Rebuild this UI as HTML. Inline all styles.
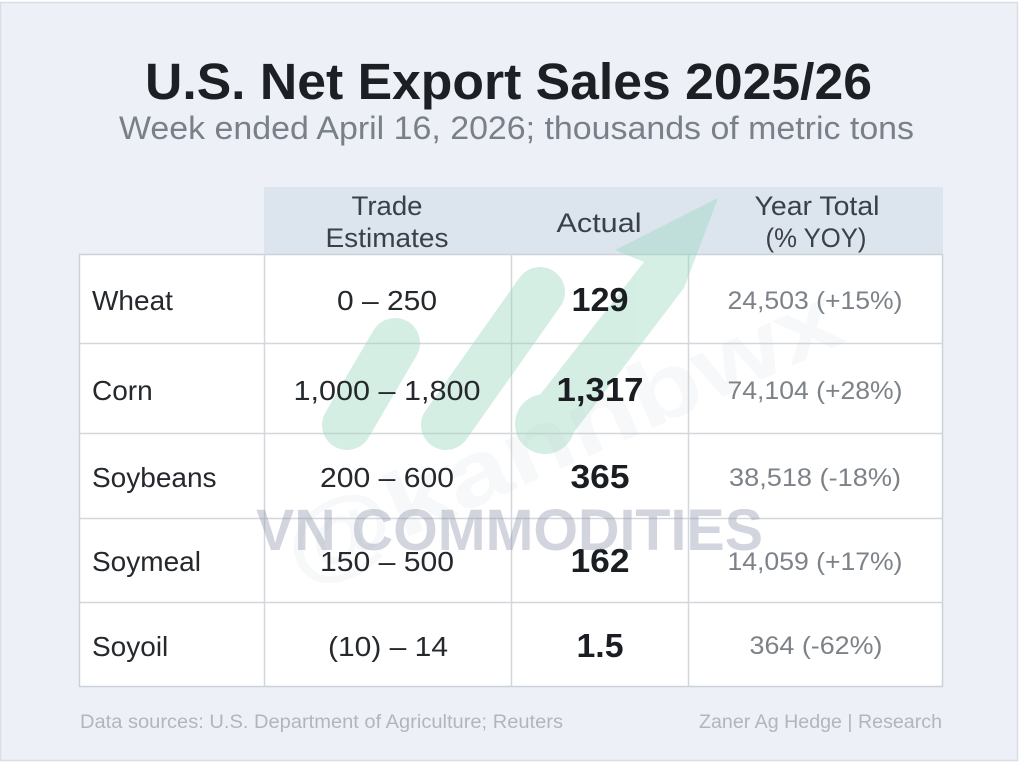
<!DOCTYPE html>
<html>
<head>
<meta charset="utf-8">
<style>
html,body{margin:0;padding:0;background:#ffffff;}
svg{display:block;}
</style>
</head>
<body>
<svg width="1020" height="766" viewBox="0 0 1020 766" xmlns="http://www.w3.org/2000/svg" font-family="Liberation Sans, Arial, sans-serif">
  <!-- frame -->
  <rect x="0.5" y="2.5" width="1017" height="758" fill="#edf1f7" stroke="#d9dee5" stroke-width="1.5"/>

  <!-- title -->
  <text x="145" y="99" font-size="51" font-weight="bold" fill="#1c1f23" textLength="727" lengthAdjust="spacingAndGlyphs">U.S. Net Export Sales 2025/26</text>
  <text x="119" y="139" font-size="32" fill="#7a8089" textLength="795" lengthAdjust="spacingAndGlyphs">Week ended April 16, 2026; thousands of metric tons</text>

  <!-- header band -->
  <rect x="264" y="187" width="679" height="67" fill="#dce4ee"/>

  <!-- table body -->
  <rect x="79.5" y="254.5" width="863" height="432" fill="#ffffff" stroke="#ccd1d7" stroke-width="1.5"/>
  <g stroke="#d3d7dc" stroke-width="1.5">
    <line x1="79" y1="343.5" x2="943" y2="343.5"/>
    <line x1="79" y1="433.5" x2="943" y2="433.5"/>
    <line x1="79" y1="518.5" x2="943" y2="518.5"/>
    <line x1="79" y1="602.5" x2="943" y2="602.5"/>
    <line x1="264.5" y1="254" x2="264.5" y2="687"/>
    <line x1="511.5" y1="254" x2="511.5" y2="687"/>
    <line x1="688.5" y1="254" x2="688.5" y2="687"/>
  </g>

  <!-- green logo watermark -->
  <g fill="rgb(150,215,188)" stroke="rgb(150,215,188)" opacity="0.40">
    <line x1="395" y1="343" x2="347" y2="425" stroke-width="50" stroke-linecap="round"/>
    <line x1="540" y1="292" x2="446" y2="425" stroke-width="50" stroke-linecap="round"/>
    <circle cx="545" cy="424" r="30" stroke="none"/>
    <path d="M528,410 L568,440 L684,288 L718,198 L615,250 L644,262 Z" stroke="none"/>
  </g>

  <!-- @kannbwx watermark -->
  <text x="0" y="0" font-size="92" font-weight="bold" fill="#c0c6d0" fill-opacity="0.13" textLength="600" lengthAdjust="spacingAndGlyphs" transform="translate(300,585) rotate(-24)">@kannbwx</text>

  <!-- header text -->
  <g font-size="27" fill="#3b4047" text-anchor="middle">
    <text x="387" y="215" textLength="71" lengthAdjust="spacingAndGlyphs">Trade</text>
    <text x="387" y="247" textLength="123" lengthAdjust="spacingAndGlyphs">Estimates</text>
    <text x="599" y="232" textLength="85" lengthAdjust="spacingAndGlyphs">Actual</text>
    <text x="817" y="215" textLength="125" lengthAdjust="spacingAndGlyphs">Year Total</text>
    <text x="816" y="247" textLength="101" lengthAdjust="spacingAndGlyphs">(% YOY)</text>
  </g>

  <!-- row labels -->
  <g font-size="28" fill="#25282c">
    <text x="92" y="310">Wheat</text>
    <text x="92" y="400">Corn</text>
    <text x="92" y="487">Soybeans</text>
    <text x="92" y="571">Soymeal</text>
    <text x="92" y="656">Soyoil</text>
  </g>

  <!-- trade estimates -->
  <g font-size="28" fill="#25282c" text-anchor="middle">
    <text x="387" y="310" textLength="100" lengthAdjust="spacingAndGlyphs">0 – 250</text>
    <text x="387" y="400" textLength="187" lengthAdjust="spacingAndGlyphs">1,000 – 1,800</text>
    <text x="387" y="487" textLength="134" lengthAdjust="spacingAndGlyphs">200 – 600</text>
    <text x="387" y="571" textLength="134" lengthAdjust="spacingAndGlyphs">150 – 500</text>
    <text x="388" y="656" textLength="120" lengthAdjust="spacingAndGlyphs">(10) – 14</text>
  </g>

  <!-- actual -->
  <g font-size="33" font-weight="bold" fill="#1a1d21" text-anchor="middle">
    <text x="600" y="311" textLength="57" lengthAdjust="spacingAndGlyphs">129</text>
    <text x="600" y="401" textLength="87" lengthAdjust="spacingAndGlyphs">1,317</text>
    <text x="600" y="488" textLength="59" lengthAdjust="spacingAndGlyphs">365</text>
    <text x="600" y="572" textLength="59" lengthAdjust="spacingAndGlyphs">162</text>
    <text x="600" y="657" textLength="47" lengthAdjust="spacingAndGlyphs">1.5</text>
  </g>

  <!-- year totals -->
  <g font-size="25" fill="#7d8288" text-anchor="middle">
    <text x="815" y="309" textLength="175" lengthAdjust="spacingAndGlyphs">24,503 (+15%)</text>
    <text x="815" y="399" textLength="175" lengthAdjust="spacingAndGlyphs">74,104 (+28%)</text>
    <text x="815" y="486" textLength="172" lengthAdjust="spacingAndGlyphs">38,518 (-18%)</text>
    <text x="815" y="570" textLength="175" lengthAdjust="spacingAndGlyphs">14,059 (+17%)</text>
    <text x="816" y="654" textLength="133" lengthAdjust="spacingAndGlyphs">364 (-62%)</text>
  </g>

  <!-- VN COMMODITIES watermark -->
  <text x="256" y="550" font-size="58" font-weight="bold" fill="#8f96aa" fill-opacity="0.4" textLength="507" lengthAdjust="spacingAndGlyphs">VN COMMODITIES</text>

  <!-- footer -->
  <text x="80" y="728" font-size="19" fill="#b1b6bd" textLength="483" lengthAdjust="spacingAndGlyphs">Data sources: U.S. Department of Agriculture; Reuters</text>
  <text x="942" y="728" font-size="19" fill="#b1b6bd" text-anchor="end" textLength="243" lengthAdjust="spacingAndGlyphs">Zaner Ag Hedge | Research</text>
</svg>
</body>
</html>
